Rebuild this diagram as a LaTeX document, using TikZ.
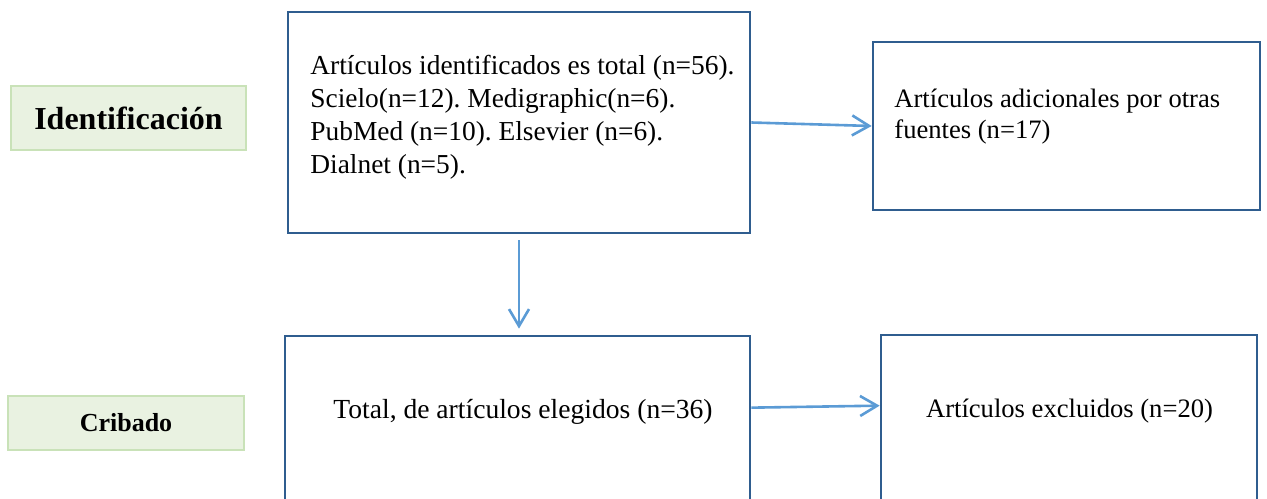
\documentclass[tikz,border=0pt]{standalone}
\usepackage{fontspec}
\setmainfont{Liberation Serif}
\frenchspacing
\usetikzlibrary{arrows.meta}
\definecolor{bordeazul}{HTML}{2F5D8F}
\definecolor{flechaazul}{HTML}{5B9BD5}
\definecolor{verdefondo}{HTML}{E9F2E1}
\definecolor{verdeborde}{HTML}{C9E2B8}
\tikzset{
  etapa/.style={draw=verdeborde, fill=verdefondo, line width=1.4pt, inner sep=0pt},
  caja/.style={draw=bordeazul, line width=1.35pt, inner sep=0pt},
  texto/.style={inner sep=0pt, align=left, font=\fontsize{13.3}{16.5}\selectfont},
  flecha/.style={draw=flechaazul, line width=1.3pt, -{Straight Barb[length=8.5pt,width=10pt]}}
}
\begin{document}
\begin{tikzpicture}[x=0.5pt,y=-0.5pt]
  \clip (0,0) rectangle (1267,498);
  \node[etapa, minimum width=117.5pt, minimum height=32pt,
    font=\bfseries\fontsize{16}{19}\selectfont] (ident) at (128.5,118) {Identificación};
  \node[etapa, minimum width=118pt, minimum height=27pt,
    font=\bfseries\fontsize{13}{16}\selectfont] (crib) at (126,423) {Cribado};
  \node[caja, minimum width=231pt, minimum height=110.5pt] (total) at (519,122.5) {};
  \node[caja, minimum width=193.5pt, minimum height=84pt] (otras) at (1066.5,126) {};
  \node[caja, minimum width=232.5pt, minimum height=92pt] (elegidos) at (517.5,428) {};
  \node[caja, minimum width=188pt, minimum height=92.5pt] (excluidos) at (1069,427.5) {};
  \node[texto, anchor=base west, font=\fontsize{13.7}{16.5}\selectfont] (ttotal) at (310,173)
    {Artículos identificados es total (n=56).\\
     Scielo(n=12). Medigraphic(n=6).\\
     PubMed (n=10). Elsevier (n=6).\\
     Dialnet (n=5).};
  \node[texto, anchor=base west, font=\fontsize{13.3}{15.5}\selectfont] (totras) at (894,138)
    {Artículos adicionales por otras\\
     fuentes (n=17)};
  \node[texto, anchor=base, font=\fontsize{13.8}{16}\selectfont] (telegidos) at (523,418)
    {Total, de artículos elegidos (n=36)};
  \node[texto, anchor=base] (texcluidos) at (1069.5,417) {Artículos excluidos (n=20)};
  \begin{scope}[flecha]
    \draw (total.east) -- (otras.west);
    \draw[shorten <=3pt, shorten >=3pt] (total.south) -- (total.south |- elegidos.north);
    \draw ([yshift=-36.5pt]elegidos.north east) -- ([yshift=-36pt]excluidos.north west);
  \end{scope}
\end{tikzpicture}
\end{document}
